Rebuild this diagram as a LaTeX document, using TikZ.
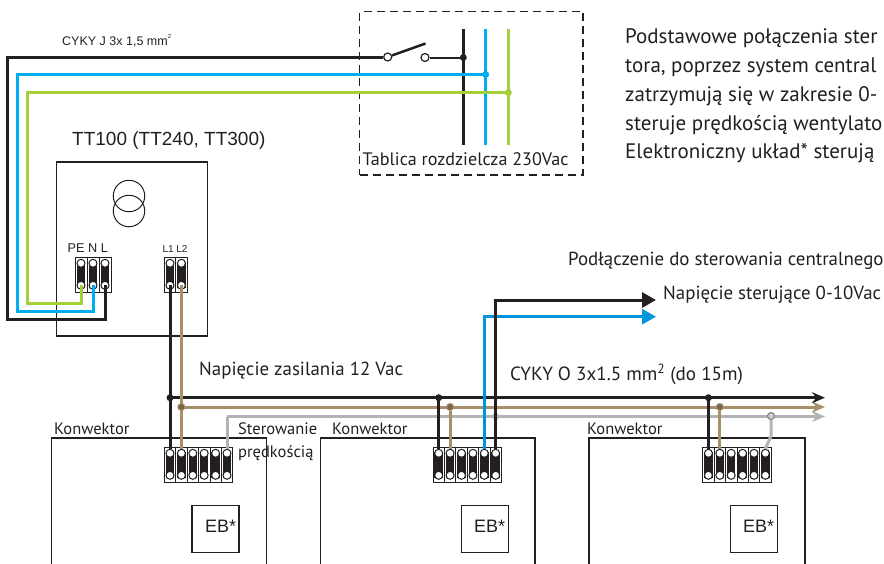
\documentclass[tikz,border=0pt]{standalone}
\usepackage{fontspec}
\setmainfont{PT Sans}
\newfontfamily\arialfont{Liberation Sans}
\usetikzlibrary{arrows.meta}
\definecolor{wireblack}{HTML}{231F20}
\definecolor{wireblue}{HTML}{00AEEF}
\definecolor{ctrlblue}{HTML}{0095DA}
\definecolor{wiregreen}{HTML}{A6CE39}
\definecolor{wirebrown}{HTML}{A88F6B}
\definecolor{wiregray}{HTML}{B1B3B6}
\tikzset{
	label/.style={anchor=base west, inner sep=0, text=wireblack, font=\fontsize{#1}{#1}\selectfont},
	arial/.style={anchor=base west, inner sep=0, text=wireblack, font=\arialfont\fontsize{#1}{#1}\selectfont},
	wire/.style={line width=3pt, line join=miter},
	frame/.style={draw=wireblack, line width=1.1pt, inner sep=0},
	dot/.style={circle, inner sep=0, minimum size=#1},
	contact/.style={circle, draw=wireblack, line width=1.2pt, fill=white, inner sep=0, minimum size=8pt},
	coil/.style={circle, draw=wireblack, line width=1pt, inner sep=0, minimum size=31.5pt},
	cellbox/.style={draw=wireblack, line width=.8pt, fill=white, inner sep=0, minimum height=35pt},
	cellbar/.style={fill=wireblack, inner sep=0, minimum width=8.5pt, minimum height=26pt},
	hole/.style={circle, draw=wireblack, line width=1pt, fill=white, inner sep=0, minimum size=8pt},
	bustip/.style={-{Stealth[length=13pt,width=11pt]}},
	bigtip/.style={-{Triangle[length=14pt,width=15pt]}}
}
% one terminal: name, centre x, top y, width
\newcommand{\termcell}[4]{
	\node[cellbox, minimum width=#4] (#1) at (#2,#3+17.5) {};
	\node[cellbar] at (#2,#3+17.5) {};
	\node[hole] (#1t) at (#2,#3+6.3) {};
	\node[hole] (#1b) at (#2,#3+28.3) {};
}
\begin{document}
\begin{tikzpicture}[x=1pt,y=-1pt]
	\useasboundingbox (0,0) rectangle (884,563);

	% text on the right
	\node[label=21] (introa) at (625,43) {Podstawowe połączenia ster};
	\node[label=21] (introb) at (625,72.7) {tora, poprzez system central};
	\node[label=21] (introc) at (625,101.7) {zatrzymują się w zakresie 0-};
	\node[label=21] (introd) at (625,130) {steruje prędkością wentylato};
	\node[label=21] (introe) at (625,158) {Elektroniczny układ* sterują};
	\node[label=18.9] (central) at (568,265) {Podłączenie do sterowania centralnego};
	\node[label=18.9] (ctrlvolt) at (663,299) {Napięcie sterujące 0-10Vac};
	\node[label=18.9] (supply) at (199,375) {Napięcie zasilania 12 Vac};
	\node[label=19.1] (cycable) at (510,380.7) {CYKY O 3x1.5 mm\textsuperscript{2} (do 15m)};

	% switchboard
	\node[draw=wireblack, line width=1.2pt, dash pattern=on 8pt off 5pt, inner sep=0, minimum width=223.3pt, minimum height=163.3pt] (board) at (471.4,93.3) {};
	\node[label=18.1] (boardtext) at (362.5,165.7) {Tablica rozdzielcza 230Vac};
	\coordinate (bta) at (463.3,29);
	\coordinate (btb) at (485.7,29);
	\coordinate (btc) at (508.3,29);
	\coordinate (bba) at (463.3,145);
	\coordinate (bbb) at (485.7,145);
	\coordinate (bbc) at (508.3,145);
	\draw[wire, wireblack] (bta) -- (bba);
	\draw[wire, wireblue] (btb) -- (bbb);
	\draw[wire, wiregreen] (btc) -- (bbc);
	\node[dot=7pt, fill=wireblack] (ja) at (463.3,57.5) {};
	\node[dot=7pt, fill=wireblue] (jb) at (485.7,74.5) {};
	\node[dot=7pt, fill=wiregreen] (jc) at (508.3,92.7) {};

	% TT100
	\node[frame, minimum width=150.5pt, minimum height=174pt] (tt) at (131.8,249) {};
	\node[arial=19] (ttname) at (72,145) {TT100 (TT240, TT300)};
	\node[arial=12.5] (cable) at (62,45) {CYKY J 3x 1,5 mm\raisebox{.5em}{\fontsize{6}{6}\selectfont 2}};
	\node[coil] (coila) at (129,196) {};
	\node[coil] (coilb) at (129,211) {};
	\foreach \name/\x in {pe/81,nn/93,ll/105,lone/170,ltwo/181.4}
		\termcell{\name}{\x}{257}{12pt};
	\node[arial=12.7] (pelabel) at (67.5,252.7) {PE N L};
	\node[arial=10] (l1label) at (162.3,252.7) {L1 L2};

	% convectors
	\draw[wireblack, line width=1.1pt] (51.7,570) |- (266.7,438) -- (266.7,570);
	\draw[wireblack, line width=1.1pt] (320.7,570) |- (535,438) -- (535,570);
	\draw[wireblack, line width=1.1pt] (589,570) |- (805,438) -- (805,570);
	\node[label=16.5] (conva) at (54,434.5) {Konwektor};
	\node[label=16.5] (convb) at (332,434.5) {Konwektor};
	\node[label=16.5] (convc) at (587,434.5) {Konwektor};
	\foreach \x [count=\i] in {170,181.4,192.8,204.2,215.6,227}
		\termcell{a\i}{\x}{447}{11.4pt};
	\foreach \x [count=\i] in {438.7,450.1,461.5,472.9,484.3,495.7}
		\termcell{b\i}{\x}{447}{11.4pt};
	\foreach \x [count=\i] in {708.4,719.8,731.2,742.6,754,765.4}
		\termcell{c\i}{\x}{447}{11.4pt};
	\node[frame, minimum width=47pt, minimum height=46.5pt] (eba) at (215.5,529) {};
	\node[frame, minimum width=47pt, minimum height=46.5pt] (ebb) at (484.8,529) {};
	\node[frame, minimum width=47pt, minimum height=46.5pt] (ebc) at (753.8,529) {};
	\node[arial=18] (ebatext) at (205,532.7) {EB*};
	\node[arial=18] (ebbtext) at (474,532.7) {EB*};
	\node[arial=18] (ebctext) at (743,532.7) {EB*};
	\node[label=16.5] (speeda) at (238,434) {Sterowanie};
	\node[label=16.5] (speedb) at (238,457) {prędkością};

	% mains cable
	\node[contact] (contacta) at (387.7,57) {};
	\node[contact] (contactb) at (425,57.5) {};
	\coordinate (bladeend) at (425.5,43.5);
	\draw[line width=2.5pt, wireblack] (contacta) -- (bladeend);
	\draw[line width=2pt, wireblack] (contactb) -- (ja);
	\draw[wire, wiregreen] (jc.center) -- (27.7,92.7) -- (27.7,303) -| (peb.center);
	\draw[wire, wireblue] (jb.center) -- (17,74.5) -- (17,311) -| (nnb.center);
	\draw[wire, wireblack] (contacta) -- (7,57) -- (7,319) -| (llb.center);

	% buses
	\coordinate (endblack) at (825,397.7);
	\coordinate (endbrown) at (825,407);
	\coordinate (endgray) at (825,416.5);
	\coordinate (grayturn) at (227,416.5);
	\coordinate (graykink) at (771,436);
	\draw[wire, wiregray, bustip] (grayturn) -- (endgray);
	\draw[wire, wirebrown, bustip] (ltwob.center |- endbrown) -- (endbrown);
	\draw[wire, wireblack, bustip] (loneb.center |- endblack) -- (endblack);
	\draw[wire, wiregray] (a6t.north) -- (grayturn);
	\node[dot=7pt, fill=wiregray] (busbc) at (495.7,416.5) {};
	\node[dot=7pt, fill=wiregray!60, draw=wiregray!70!black, line width=1pt] (buscc) at (771,416) {};
	\draw[wire, wiregray] (buscc) -- (graykink) -- (c6t.north);

	% drops to the terminals
	\draw[wire, wireblack] (loneb.center) -- (a1t.north);
	\draw[wire, wirebrown] (ltwob.center) -- (a2t.north);
	\node[dot=7pt, fill=wireblack] (busaa) at (170,397.7) {};
	\node[dot=7pt, fill=wireblack] (busba) at (438.7,397.7) {};
	\node[dot=7pt, fill=wireblack] (busca) at (708.4,397.7) {};
	\node[dot=7pt, fill=wirebrown!70!black, draw=wirebrown, line width=1pt] (busab) at (181.4,407) {};
	\node[dot=7pt, fill=wirebrown!70!black, draw=wirebrown, line width=1pt] (busbb) at (450.1,407) {};
	\node[dot=7pt, fill=wirebrown!70!black, draw=wirebrown, line width=1pt] (buscb) at (719.8,407) {};
	\draw[wire, wireblack] (busba.center) -- (b1t.north);
	\draw[wire, wirebrown] (busbb) -- (b2t.north);
	\draw[wire, wireblack] (busca.center) -- (c1t.north);
	\draw[wire, wirebrown] (buscb) -- (c2t.north);

	% control line
	\coordinate (ctrlend) at (656,300);
	\coordinate (bluend) at (656,316.7);
	\draw[wire, ctrlblue, bigtip] (b5t.north) -- (484.3,316.7) -- (bluend);
	\draw[wire, wireblack, bigtip] (b6t.north) -- (495.7,300) -- (ctrlend);
\end{tikzpicture}
\end{document}
